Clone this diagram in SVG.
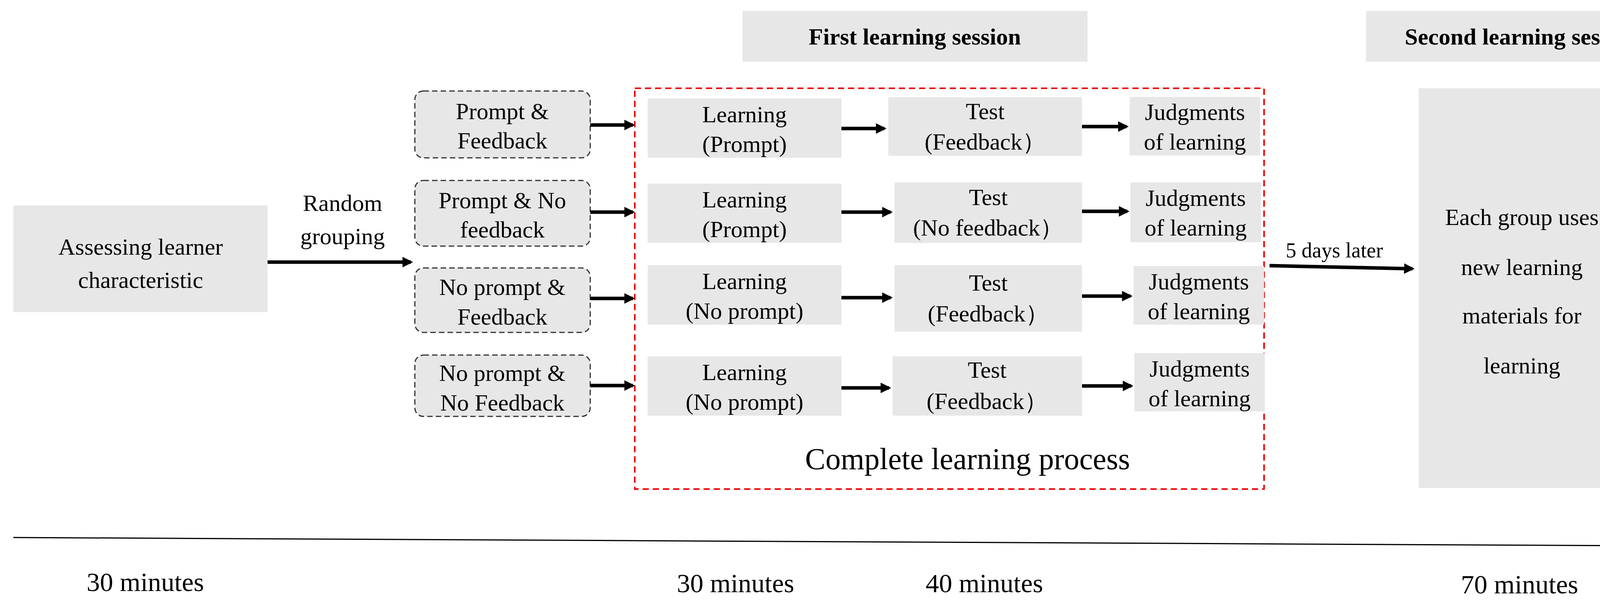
<svg xmlns="http://www.w3.org/2000/svg" width="4377" height="1536" viewBox="0 0 4377 1536">
<style>
text{font-family:"Liberation Serif","Times New Roman",serif;fill:#000;text-anchor:middle}
.t{font-size:60px}
.b{font-size:60px;font-weight:bold}
.big{font-size:78px}
.tm{font-size:68px}
.box{fill:#e7e7e7}
.dash{fill:#e7e7e7;stroke:#333;stroke-width:3;stroke-dasharray:14 8}
.arr{stroke:#000;stroke-width:9;fill:none;marker-end:url(#ah)}
</style>
<defs>
<marker id="ah" viewBox="0 0 10 10" refX="8" refY="5" markerWidth="3" markerHeight="3" orient="auto" markerUnits="strokeWidth"><path d="M0,0L10,5L0,10z" fill="#000"/></marker>
<marker id="ah2" viewBox="0 0 10 10" refX="8" refY="5" markerWidth="8" markerHeight="8" orient="auto" markerUnits="strokeWidth"><path d="M0,0L10,5L0,10z" fill="#000"/></marker>
</defs>
<g id="first-session"><rect class="box" x="1901" y="28" width="883" height="130"/><text class="b" x="2342" y="114">First learning session</text></g>
<g id="second-session"><rect class="box" x="3497" y="28" width="802" height="130"/><text class="b" x="3898" y="114">Second learning session</text></g>
<g id="assess"><rect class="box" x="34" y="526" width="651" height="273"/><text class="t" x="360" y="652">Assessing learner</text><text class="t" x="360" y="737">characteristic</text></g>
<g id="random"><text class="t" x="877" y="540">Random</text><text class="t" x="877" y="625">grouping</text></g>
<g id="g1"><rect class="dash" x="1062" y="233" width="449" height="171" rx="22"/><text class="t" x="1286" y="305">Prompt &amp;</text><text class="t" x="1286" y="380">Feedback</text></g>
<g id="g2"><rect class="dash" x="1062" y="462" width="449" height="168" rx="22"/><text class="t" x="1286" y="533">Prompt &amp; No</text><text class="t" x="1286" y="608">feedback</text></g>
<g id="g3"><rect class="dash" x="1062" y="686" width="449" height="165" rx="22"/><text class="t" x="1286" y="755">No prompt &amp;</text><text class="t" x="1286" y="831">Feedback</text></g>
<g id="g4"><rect class="dash" x="1062" y="909" width="449" height="157" rx="22"/><text class="t" x="1286" y="975">No prompt &amp;</text><text class="t" x="1286" y="1051">No Feedback</text></g>
<g id="process"><rect x="1625" y="226" width="1611" height="1026" fill="none" stroke="#e00" stroke-width="4" stroke-dasharray="16 10"/><text class="big" x="2477" y="1201">Complete learning process</text></g>
<g id="l1"><rect class="box" x="1658" y="252" width="496" height="152"/><text class="t" x="1906" y="313">Learning</text><text class="t" x="1906" y="389">(Prompt)</text></g>
<g id="l2"><rect class="box" x="1658" y="470" width="496" height="152"/><text class="t" x="1906" y="531">Learning</text><text class="t" x="1906" y="607">(Prompt)</text></g>
<g id="l3"><rect class="box" x="1658" y="679" width="496" height="152"/><text class="t" x="1906" y="740">Learning</text><text class="t" x="1906" y="816">(No prompt)</text></g>
<g id="l4"><rect class="box" x="1658" y="912" width="496" height="152"/><text class="t" x="1906" y="973">Learning</text><text class="t" x="1906" y="1049">(No prompt)</text></g>
<g id="t1"><rect class="box" x="2274" y="249" width="496" height="150"/><text class="t" x="2522" y="305">Test</text><text class="t" x="2522" y="383">(Feedback）</text></g>
<g id="t2"><rect class="box" x="2290" y="467" width="480" height="155"/><text class="t" x="2530" y="525">Test</text><text class="t" x="2530" y="603">(No feedback）</text></g>
<g id="t3"><rect class="box" x="2290" y="679" width="480" height="170"/><text class="t" x="2530" y="744">Test</text><text class="t" x="2530" y="823">(Feedback）</text></g>
<g id="t4"><rect class="box" x="2285" y="912" width="485" height="152"/><text class="t" x="2527" y="967">Test</text><text class="t" x="2527" y="1047">(Feedback）</text></g>
<g id="j1"><rect class="box" x="2892" y="248" width="334" height="150"/><text class="t" x="3059" y="307">Judgments</text><text class="t" x="3059" y="383">of learning</text></g>
<g id="j2"><rect class="box" x="2894" y="467" width="334" height="153"/><text class="t" x="3061" y="527">Judgments</text><text class="t" x="3061" y="603">of learning</text></g>
<g id="j3"><rect class="box" x="2902" y="681" width="334" height="150"/><text class="t" x="3069" y="741">Judgments</text><text class="t" x="3069" y="817">of learning</text></g>
<g id="j4"><rect class="box" x="2904" y="904" width="334" height="149"/><text class="t" x="3071" y="964">Judgments</text><text class="t" x="3071" y="1040">of learning</text></g>
<g id="second-box"><rect class="box" x="3632" y="226" width="528" height="1023"/><text class="t" x="3896" y="576">Each group uses</text><text class="t" x="3896" y="704">new learning</text><text class="t" x="3896" y="828">materials for</text><text class="t" x="3896" y="956">learning</text></g>
<g id="later"><text style="font-size:54px" x="3416" y="659">5 days later</text></g>
<g id="times"><text class="tm" x="372" y="1513">30 minutes</text><text class="tm" x="1883" y="1516">30 minutes</text><text class="tm" x="2520" y="1516">40 minutes</text><text class="tm" x="3890" y="1519">70 minutes</text></g>
<g id="connectors">
<path class="arr" d="M685,671H1052"/>
<path class="arr" d="M1511,320H1620"/><path class="arr" d="M1511,543H1620"/><path class="arr" d="M1511,764H1620"/><path class="arr" d="M1511,987H1620"/>
<path class="arr" d="M2154,329H2264"/><path class="arr" d="M2154,543H2280"/><path class="arr" d="M2154,762H2280"/><path class="arr" d="M2154,993H2276"/>
<path class="arr" d="M2770,324H2884"/><path class="arr" d="M2770,541H2886"/><path class="arr" d="M2770,758H2894"/><path class="arr" d="M2770,988H2896"/>
<path class="arr" d="M3250,680L3616,688"/>
<path d="M34,1376L4350,1398" stroke="#000" stroke-width="3" fill="none" marker-end="url(#ah2)"/>
</g>
</svg>
